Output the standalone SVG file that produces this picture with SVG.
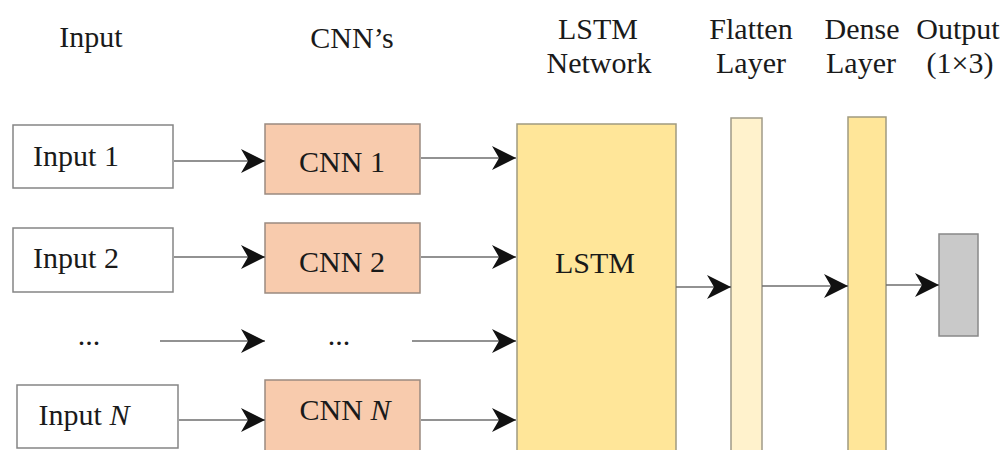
<svg xmlns="http://www.w3.org/2000/svg" width="1006" height="450" viewBox="0 0 1006 450">
<defs>
<marker id="arr" markerUnits="userSpaceOnUse" markerWidth="26" markerHeight="26" viewBox="0 0 26 26" refX="25" refY="13" orient="auto">
<path d="M1,1 L25,13 L1,25 L8,13 Z" fill="#111"/>
</marker>
<style>
text{font-family:"Liberation Serif","Times New Roman",serif;font-size:30px;fill:#1a1a1a;text-anchor:middle}
.in{fill:#fff;stroke:#858585;stroke-width:1.5}
.cnn{fill:#f8cbad;stroke:#9a8a80;stroke-width:1.5}
.lstm{fill:#ffe699;stroke:#a09a80;stroke-width:1.5}
.flat{fill:#fff2cc;stroke:#a09a88;stroke-width:1.5}
.out{fill:#c9c9c9;stroke:#888;stroke-width:1.5}
.c{stroke:#6e6e6e;stroke-width:1.5;fill:none;marker-end:url(#arr)}
</style>
</defs>
<rect width="1006" height="450" fill="#fff"/>
<g id="headers">
<text x="91" y="47">Input</text>
<text x="352" y="48">CNN’s</text>
<text x="598" y="39">LSTM</text>
<text x="599" y="73">Network</text>
<text x="751" y="39">Flatten</text>
<text x="751" y="73">Layer</text>
<text x="862" y="39">Dense</text>
<text x="861" y="73">Layer</text>
<text x="958" y="39">Output</text>
<text x="960" y="73">(1×3)</text>
</g>
<g id="input1"><rect class="in" x="13" y="125" width="160" height="63"/><text x="76" y="166">Input 1</text></g>
<g id="input2"><rect class="in" x="13" y="228" width="160" height="64"/><text x="76" y="268">Input 2</text></g>
<g id="inputdots"><text x="89" y="345">...</text></g>
<g id="inputN"><rect class="in" x="17" y="385" width="161" height="63"/><text x="84" y="425">Input <tspan font-style="italic">N</tspan></text></g>
<g id="cnn1"><rect class="cnn" x="265" y="124" width="155" height="70"/><text x="342" y="172">CNN 1</text></g>
<g id="cnn2"><rect class="cnn" x="265" y="223" width="155" height="70"/><text x="342" y="272">CNN 2</text></g>
<g id="cnndots"><text x="339" y="345">...</text></g>
<g id="cnnN"><rect class="cnn" x="265" y="380" width="155" height="80"/><text x="345" y="420">CNN <tspan font-style="italic">N</tspan></text></g>
<g id="lstm"><rect class="lstm" x="517" y="124" width="159" height="336"/><text x="595" y="273">LSTM</text></g>
<g id="flatten"><rect class="flat" x="731" y="118" width="31" height="342"/></g>
<g id="dense"><rect class="lstm" x="848" y="117" width="38" height="343"/></g>
<g id="output"><rect class="out" x="939" y="234" width="39" height="102"/></g>
<g id="connectors">
<line class="c" x1="174" y1="161" x2="265" y2="161"/>
<line class="c" x1="421" y1="158" x2="516" y2="158"/>
<line class="c" x1="174" y1="257" x2="265" y2="257"/>
<line class="c" x1="421" y1="257" x2="516" y2="257"/>
<line class="c" x1="160" y1="341" x2="265" y2="341"/>
<line class="c" x1="412" y1="341" x2="516" y2="341"/>
<line class="c" x1="179" y1="420" x2="265" y2="420"/>
<line class="c" x1="421" y1="420" x2="516" y2="420"/>
<line class="c" x1="676" y1="287" x2="731" y2="287"/>
<line class="c" x1="762" y1="286" x2="848" y2="286"/>
<line class="c" x1="886" y1="285" x2="939" y2="285"/>
</g>
</svg>
